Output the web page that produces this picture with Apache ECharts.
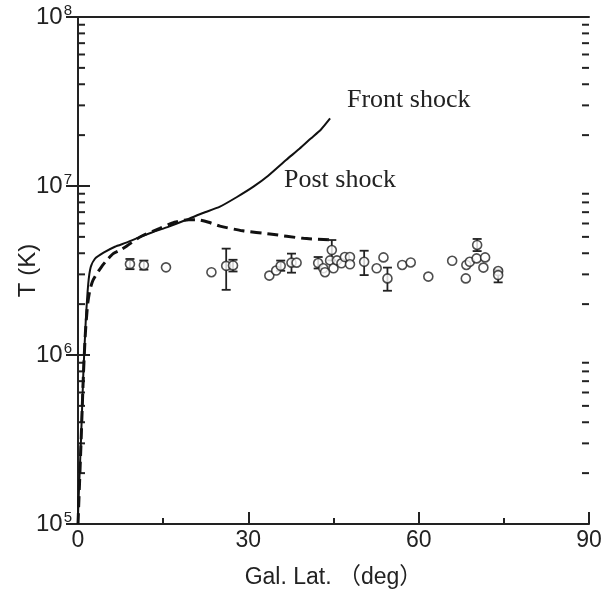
<!DOCTYPE html>
<html>
<head>
<meta charset="utf-8">
<script src="https://cdn.jsdelivr.net/npm/echarts@6/dist/echarts.min.js"></script>
<style>
  html, body { margin: 0; padding: 0; background: #fff; }
  #chart { width: 604px; height: 596px; }
</style>
</head>
<body>
<div id="chart"></div>
<script>
// front shock curve (solid)
const frontLat = [0, 0.05, 0.53, 0.94, 1.35, 1.8, 2.23, 3.0, 4.5, 6.5, 8.5, 10.3, 13, 16, 19.1, 22, 25, 28, 30.9, 33.5, 36.7, 39, 41, 42.8, 44.4];
const frontT = [1.0e5, 1.26e5, 3.16e5, 7.76e5, 1.55e6, 2.63e6, 3.31e6, 3.72e6, 4.03e6, 4.37e6, 4.62e6, 4.90e6, 5.31e6, 5.75e6, 6.31e6, 6.92e6, 7.55e6, 8.61e6, 9.91e6, 1.15e7, 1.43e7, 1.66e7, 1.91e7, 2.16e7, 2.51e7];

// post shock curve (dashed)
const postLat = [0, 0.5, 0.95, 1.3, 1.7, 2.1, 2.6, 3.3, 4.2, 5.05, 6.2, 7.4, 8.6, 11, 14.4, 17, 19.5, 21, 23, 25, 29, 33.8, 39.7, 44.9];
const postT = [1.0e5, 2.82e5, 7.59e5, 1.35e6, 2.0e6, 2.43e6, 2.75e6, 3.02e6, 3.35e6, 3.63e6, 3.98e6, 4.17e6, 4.42e6, 5.01e6, 5.62e6, 6.10e6, 6.31e6, 6.31e6, 6.10e6, 5.79e6, 5.43e6, 5.20e6, 4.90e6, 4.79e6];

// observed points
const obsLat = [9.15, 11.6, 15.5, 23.5, 26.1, 27.3, 33.7, 34.9, 35.7, 37.6, 38.5, 42.3, 43.2, 43.5, 44.4, 44.7, 45.0, 45.6, 46.4, 47.0, 47.9, 47.9, 50.4, 52.6, 53.8, 54.5, 57.1, 58.6, 61.7, 65.9, 68.3, 68.4, 69.0, 70.2, 70.3, 71.4, 71.7, 74.0, 74.0];
const obsT = [3.45e6, 3.40e6, 3.30e6, 3.09e6, 3.37e6, 3.39e6, 2.95e6, 3.16e6, 3.37e6, 3.52e6, 3.52e6, 3.50e6, 3.26e6, 3.09e6, 3.63e6, 4.18e6, 3.26e6, 3.63e6, 3.49e6, 3.80e6, 3.80e6, 3.44e6, 3.56e6, 3.26e6, 3.78e6, 2.84e6, 3.41e6, 3.53e6, 2.91e6, 3.61e6, 2.84e6, 3.41e6, 3.56e6, 3.73e6, 4.48e6, 3.29e6, 3.78e6, 3.14e6, 2.97e6];
const obsLo = [3.22e6, 3.20e6, null, null, 2.43e6, 3.12e6, null, null, 3.15e6, 3.07e6, null, 3.25e6, null, null, null, 3.63e6, null, null, null, null, null, null, 2.97e6, null, null, 2.40e6, null, null, null, null, null, null, null, null, 4.12e6, null, null, null, 2.69e6];
const obsHi = [3.70e6, 3.62e6, null, null, 4.26e6, 3.66e6, null, null, 3.62e6, 3.98e6, null, 3.80e6, null, null, null, 4.79e6, null, null, null, null, null, null, 4.14e6, null, null, 3.29e6, null, null, null, null, null, null, null, null, 4.86e6, null, null, null, 3.20e6];

const yMinorTicks = [2e5, 3e5, 4e5, 5e5, 6e5, 7e5, 8e5, 9e5, 2e6, 3e6, 4e6, 5e6, 6e6, 7e6, 8e6, 9e6, 2e7, 3e7, 4e7, 5e7, 6e7, 7e7, 8e7, 9e7];

const chart = echarts.init(document.getElementById('chart'));

const errData = [];
obsLat.forEach((x, i) => {
  if (obsLo[i] != null) errData.push([x, obsLo[i], obsHi[i]]);
});

const sansFont = "'Liberation Sans', 'Noto Sans CJK JP', sans-serif";
const serifFont = "'Liberation Serif', 'DejaVu Serif', serif";

option = {
  animation: false,
  backgroundColor: '#fff',
  grid: { left: 78, right: 15, top: 17, bottom: 72, containLabel: false, outerBoundsMode: 'none' },
  xAxis: [
    {
      type: 'value',
      min: 0, max: 90, interval: 30,
      name: 'Gal. Lat. （deg）',
      nameLocation: 'middle',
      nameGap: 42,
      nameMoveOverlap: false,
      nameTextStyle: { fontSize: 23, color: '#222', fontFamily: sansFont },
      axisLine: { lineStyle: { color: '#222', width: 2 } },
      axisTick: { inside: true, length: 12, lineStyle: { color: '#222', width: 2 } },
      minorTick: { show: true, splitNumber: 2, length: 6, lineStyle: { color: '#222', width: 2 } },
      axisLabel: { fontSize: 23, color: '#222', margin: 5, fontFamily: sansFont },
      splitLine: { show: false }
    },
    {
      type: 'value', position: 'top',
      min: 0, max: 90,
      axisLine: { show: true, lineStyle: { color: '#222', width: 2 } },
      axisTick: { show: false },
      axisLabel: { show: false },
      splitLine: { show: false }
    }
  ],
  yAxis: [
    {
      type: 'log', logBase: 10,
      min: 1e5, max: 1e8,
      name: 'T (K)',
      nameLocation: 'middle',
      nameGap: 38,
      nameMoveOverlap: false,
      nameTextStyle: { fontSize: 24, color: '#222', fontFamily: sansFont },
      axisLine: { lineStyle: { color: '#222', width: 2 } },
      axisTick: { inside: true, length: 12, lineStyle: { color: '#222', width: 2 } },
      axisLabel: {
        margin: 6,
        formatter: v => '{b|10}{s|' + Math.round(Math.log10(v)) + '}',
        rich: {
          b: { fontSize: 24, color: '#222', fontFamily: sansFont },
          s: { fontSize: 15, color: '#222', fontFamily: sansFont, padding: [0, 0, 12, 1] }
        }
      },
      splitLine: { show: false }
    },
    {
      type: 'log', logBase: 10, position: 'right',
      min: 1e5, max: 1e8,
      axisLine: { show: true, lineStyle: { color: '#222', width: 2 } },
      axisTick: { inside: true, length: 12, lineStyle: { color: '#222', width: 2 } },
      axisLabel: { show: false },
      splitLine: { show: false }
    }
  ],
  graphic: [
    { type: 'text', left: 347, top: 87, style: { text: 'Front shock', fontSize: 26, fill: '#222', fontFamily: serifFont } },
    { type: 'text', left: 284, top: 167, style: { text: 'Post shock', fontSize: 26, fill: '#222', fontFamily: serifFont } }
  ],
  series: [
    {
      type: 'custom',
      name: 'minorTicks',
      silent: true,
      data: yMinorTicks.map(v => [0, v]),
      renderItem: (params, api) => {
        const v = api.value(1);
        const l = api.coord([0, v]);
        const r = api.coord([90, v]);
        const st = { stroke: '#222', lineWidth: 2 };
        return {
          type: 'group',
          children: [
            { type: 'line', shape: { x1: l[0], y1: l[1], x2: l[0] + 7, y2: l[1] }, style: st },
            { type: 'line', shape: { x1: r[0], y1: r[1], x2: r[0] - 7, y2: r[1] }, style: st }
          ]
        };
      },
      z: 1
    },
    {
      type: 'line',
      name: 'Front shock',
      data: frontLat.map((x, i) => [x, frontT[i]]),
      showSymbol: false,
      smooth: 0.2,
      lineStyle: { color: '#111', width: 2 },
      z: 2
    },
    {
      type: 'line',
      name: 'Post shock',
      data: postLat.map((x, i) => [x, postT[i]]),
      showSymbol: false,
      smooth: 0.2,
      lineStyle: { color: '#111', width: 3, type: [11, 6] },
      z: 2
    },
    {
      type: 'custom',
      name: 'errors',
      data: errData,
      renderItem: (params, api) => {
        const lo = api.coord([api.value(0), api.value(1)]);
        const hi = api.coord([api.value(0), api.value(2)]);
        const st = { stroke: '#222', lineWidth: 1.8 };
        return {
          type: 'group',
          children: [
            { type: 'line', shape: { x1: lo[0], y1: lo[1], x2: hi[0], y2: hi[1] }, style: st },
            { type: 'line', shape: { x1: lo[0] - 4.5, y1: lo[1], x2: lo[0] + 4.5, y2: lo[1] }, style: st },
            { type: 'line', shape: { x1: hi[0] - 4.5, y1: hi[1], x2: hi[0] + 4.5, y2: hi[1] }, style: st }
          ]
        };
      },
      z: 3
    },
    {
      type: 'scatter',
      name: 'obs',
      data: obsLat.map((x, i) => [x, obsT[i]]),
      symbol: 'circle',
      symbolSize: 9,
      itemStyle: { color: '#fff', borderColor: '#222', borderWidth: 1.6 },
      z: 4
    }
  ]
};

chart.setOption(option);
</script>
</body>
</html>
